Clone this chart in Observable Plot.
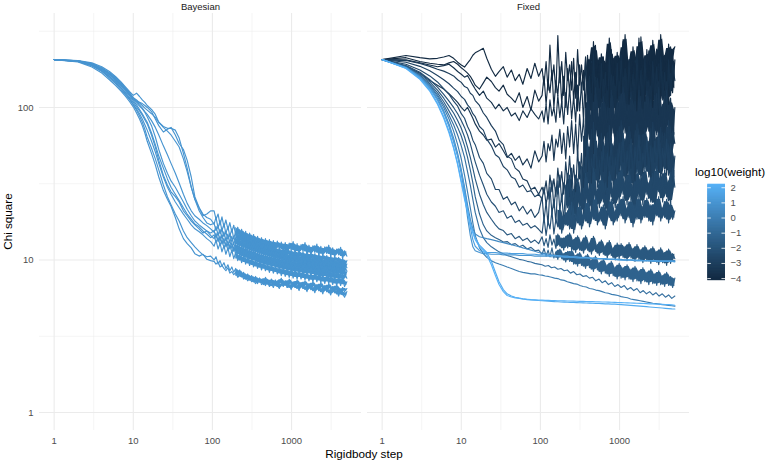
<!DOCTYPE html>
<html><head><meta charset="utf-8">
<script src="https://cdn.jsdelivr.net/npm/d3@7"></script>
<script src="https://cdn.jsdelivr.net/npm/@observablehq/plot@0.6"></script>
<style>
body{margin:0;background:#fff;}
#wrap{position:relative;width:782px;height:463px;font-family:"Liberation Sans",Arial,Helvetica,sans-serif;}
#legend{position:absolute;left:690px;top:160px;}
</style></head><body><div id="wrap"><div id="main"></div><div id="legend"></div></div>
<script>
// Rigidbody steps
const stepsEarly = [1,2,3,4,5,6,7,8,9,10,11,12,13,14,15,17,19,21,24,27,30,34,38,43,48,54,60,68,76,85,95];
const stepsLate = [105,115,126,138,151,166,182,200,219,240,263,288,316,347,380,417,457,501,550,603,661,724,794,871,955,1047,1148,1259,1380,1514,1660,1820,1995,2188,2399,2630,2884,3162,3467,3802,4169,4571,5000];
const stepsLateFine = [105,111,118,125,132,140,148,157,166,176,186,197,209,221,234,248,263,279,295,313,331,351,372,394,417,442,468,496,525,556,589,624,661,700,742,786,832,882,934,989,1047,1109,1175,1245,1318,1396,1479,1567,1660,1758,1862,1972,2089,2213,2344,2483,2630,2786,2951,3126,3311,3508,3715,3936,4169,4416,4677,5000];

const methods = ["Bayesian", "Fixed"];
const bayesianWeight = 1;

const bayesianChi = [
 [206,199,184,168,152,139,128,118,109,101,92,84,76,68,60,50,42,35,28.5,25,22.5,19,16,13.8,12.8,12,11,10.6,10.9,10.1,9.9,
  9.8,9.4,9.7,9.0,9.2,8.8,8.5,8.9,8.2,8.4,8.0,8.3,7.7,7.9,8.1,7.5,7.7,7.3,7.6,7.2,7.4,7.0,7.3,7.6,6.9,7.1,6.8,7.3,6.7,7.0,6.6,7.2,6.8,6.5,7.0,6.7,7.3,6.6,6.9,6.4,7.0,6.6,6.8,6.3,7.1,6.5,6.7,6.2,6.9,6.4,6.6,6.1,6.8,6.3,6.5,6.0,6.7,6.2,6.4,5.9,6.5,6.1,6.3,5.8,6.4,6.0,5.7,6.2],
 [206,201,188,172,156,143,131,121,112,104,96,88,80,72,64,54,46,39,31,26,23,20,18,15.5,14,13,12.2,11.4,10.8,10.5,10.6,
  10.0,10.5,9.4,9.9,9.1,9.6,8.8,9.3,8.5,9.0,8.3,8.8,8.0,8.6,7.8,8.3,7.5,8.1,7.4,7.9,7.2,7.8,7.0,7.6,7.3,6.9,7.7,7.1,6.8,7.5,6.9,7.4,6.7,7.2,7.6,6.8,7.3,6.6,7.5,6.9,7.2,6.6,7.4,6.8,7.1,6.5,7.3,6.7,7.0,6.4,7.2,6.6,6.9,6.3,7.1,6.5,6.8,6.2,7.0,6.4,6.7,6.1,6.9,6.3,6.0,6.6,6.2,6.5],
 [206,203,196,185,172,159,147,136,127,120,124,118,112,108,103,97,90,80,75,73,73,71,63,50,40,30,25,22,19.5,20,21,
  21,18.5,20,17,19.2,16.4,18.3,15.8,17.6,15.2,16.9,14.6,16.4,14.1,15.9,13.6,15.4,13.2,15.0,12.9,14.7,12.6,14.3,12.3,14.0,12.1,13.8,11.9,13.6,11.7,13.4,11.5,13.3,11.8,13.1,11.4,13.0,11.2,12.9,11.6,13.2,11.1,12.8,11.0,12.6,11.4,13.0,10.9,12.5,10.8,12.4,11.2,12.7,10.7,12.3,10.6,12.2,11.0,12.5,10.5,12.0,10.4,11.8,10.8,12.1,10.2,11.5,10.6],
 [206,202,193,180,166,153,141,131,122,114,110,108,106,103,100,94,84,76,69,72,74,66,58,53,45,35,26,22,20,19,18.5,
  17.2,19.0,16.2,18.1,15.5,17.3,14.9,16.6,14.3,16.0,13.8,15.4,13.3,14.9,12.9,14.5,12.5,14.1,12.2,13.7,11.9,13.4,11.6,13.1,11.4,12.8,11.2,12.6,11.0,12.4,10.8,12.2,10.6,12.0,10.5,11.9,10.4,11.8,10.7,11.6,10.2,11.5,10.1,11.4,10.4,11.3,9.9,11.2,9.8,11.1,10.1,11.0,9.7,10.9,9.6,10.8,9.9,10.7,9.5,10.6,9.4,10.5,9.7,10.4,9.3,10.2,9.2,9.9],
 [206,202,194,182,169,157,145,134,124,116,112,107,103,99,96,91,86,80,74,70,66,60,55,46,38,30,25,21,19,17.5,17,
  17.4,15.6,16.6,14.8,15.9,14.2,15.3,13.6,14.8,13.1,14.3,12.7,13.9,12.3,13.5,12.0,13.2,11.6,12.8,11.3,12.5,11.1,12.2,10.9,11.9,10.6,11.7,10.4,11.5,10.2,11.3,10.0,11.1,9.9,11.0,9.7,10.9,9.6,10.8,9.5,10.7,9.4,10.6,9.3,10.5,9.2,10.4,9.1,10.3,9.0,10.2,8.9,10.1,8.9,10.0,8.8,9.9,8.7,9.8,8.6,9.7,8.6,9.6,8.5,9.5,8.4,9.3,8.9],
 [206,200,189,175,160,147,135,125,116,108,101,95,89,83,78,66,55,45,36,31,28,26,24,21,19.5,18,17,16,15,15.5,14.5,
  13.8,15.0,13.2,14.4,12.7,13.9,12.2,13.4,11.8,13.0,11.4,12.6,11.1,12.2,10.8,11.9,10.5,11.6,10.3,11.3,10.1,11.1,9.9,10.9,9.7,10.7,9.5,10.5,9.4,10.4,9.2,10.2,9.1,10.1,9.0,10.0,8.9,9.9,8.8,9.8,8.7,9.7,8.6,9.6,8.6,9.5,8.5,9.4,8.4,9.4,8.4,9.3,8.3,9.2,8.2,9.2,8.2,9.1,8.1,9.0,8.0,9.0,7.9,8.9,7.9,8.8,7.8,8.4],
 [206,201,190,177,163,150,138,128,119,111,104,97,91,85,80,68,57,48,40,34,30,27,24.5,22,20,18.5,17.2,16.5,15.5,14.8,14,
  14.6,13.0,14.0,12.5,13.5,12.0,13.0,11.6,12.6,11.2,12.2,10.9,11.9,10.6,11.6,10.3,11.3,10.0,11.0,9.8,10.8,9.6,10.6,9.4,10.4,9.2,10.2,9.0,10.0,8.9,9.9,8.8,9.8,8.6,9.6,8.5,9.5,8.4,9.4,8.3,9.3,8.2,9.2,8.1,9.1,8.0,9.0,7.9,8.9,7.9,8.8,7.8,8.7,7.7,8.6,7.6,8.6,7.6,8.5,7.5,8.4,7.4,8.3,7.4,8.2,7.3,8.1,7.6],
 [206,200,188,174,159,146,134,123,114,105,98,91,84,77,71,60,51,43,35,30,27,24,22,20,18.5,17,16,15.3,14.6,13.8,13.2,
  12.3,13.5,11.8,12.9,11.3,12.4,10.9,12.0,10.5,11.6,10.2,11.2,9.9,10.9,9.6,10.6,9.4,10.3,9.2,10.1,9.0,9.9,8.8,9.7,8.6,9.5,8.5,9.3,8.3,9.2,8.2,9.0,8.1,8.9,7.9,8.8,7.8,8.7,7.7,8.6,7.6,8.5,7.5,8.4,7.5,8.3,7.4,8.2,7.3,8.1,7.2,8.1,7.2,8.0,7.1,7.9,7.0,7.9,7.0,7.8,6.9,7.7,6.8,7.7,6.8,7.6,6.7,7.2],
 [206,201,191,178,165,152,140,130,121,113,107,102,98,93,87,76,64,53,43,37,33,30,27,24,21.5,19.5,18,17,16.2,15.5,15,
  15.6,13.9,15.0,13.3,14.4,12.8,13.9,12.3,13.4,11.9,13.0,11.5,12.6,11.2,12.3,10.9,12.0,10.6,11.7,10.4,11.5,10.2,11.2,10.0,11.0,9.8,10.8,9.6,10.6,9.5,10.5,9.3,10.3,9.2,10.2,9.1,10.1,9.0,10.0,8.9,9.9,8.8,9.8,8.7,9.7,8.7,9.6,8.6,9.5,8.5,9.5,8.5,9.4,8.4,9.3,8.3,9.3,8.3,9.2,8.2,9.1,8.2,9.0,8.1,9.0,8.0,8.9,8.5],
 [206,202,192,180,167,155,143,133,124,116,110,104,99,94,90,82,74,66,56,49,43,37,32,27,23.5,21,19.5,18.5,17.5,16.8,16,
  15.2,16.6,14.6,15.9,14.0,15.3,13.5,14.8,13.1,14.3,12.7,13.9,12.3,13.5,12.0,13.2,11.7,12.9,11.4,12.6,11.2,12.3,11.0,12.1,10.8,11.9,10.6,11.7,10.4,11.5,10.3,11.3,10.1,11.2,10.0,11.1,9.9,11.0,9.8,10.9,9.7,10.8,9.6,10.7,9.5,10.6,9.5,10.5,9.4,10.4,9.3,10.3,9.3,10.3,9.2,10.2,9.1,10.1,9.1,10.0,9.0,10.0,8.9,9.9,8.9,9.8,8.8,9.4]
];

const fixedWeight = [-4, -4, -3.7, -3.4, -3.1, -2.8, -2.5, -2.1, -1.7, -1.2, -0.6, 0, 0.6, 1, 1.5, 2, 2.26];
// step from which each noisy trace is dense enough to read as a solid core
const fixedBandFrom = [380, 380, 380, 360, 340, 330, 200, 160, 150, 150];
const bayesianBandFrom = 190;

const fixedChi = [
 [206,219,212,208,210,214,219,210,198,190,184,195,206,220,228,236,244,210,178,160,172,185,158,176,150,165,142,180,155,195,160,
  180,140,200,130,256,150,190,125,296,145,200,120,230,150,190,130,210,115,240,140,190,130,215,150,205,125,270,160,200,135,225,155,195,130,285,165,210,140,230,150,205,160,300,170,200,135,250,155,215,140,290,165,200,150,235,140,275,170,210,150,300,175,220,150,260,170,230,250],
 [206,212,200,195,192,190,196,200,192,182,175,168,160,150,140,132,145,158,148,135,128,140,122,115,108,125,100,118,96,130,110,
  120,160,105,150,125,175,100,150,120,185,105,160,100,180,125,200,110,170,95,190,130,175,100,220,135,195,110,255,140,190,115,215,125,200,100,240,140,190,115,210,125,270,145,200,105,225,130,195,95,285,120,205,110,240,135,200,100,220,145,260,115,210,130,200,105,250,125,205],
 [206,205,196,190,185,188,192,182,172,165,158,162,150,140,132,120,128,115,108,98,105,95,100,88,92,82,95,86,98,90,84,
  95,80,105,78,112,88,100,80,120,86,110,78,125,90,135,84,118,80,140,95,145,80,205,105,160,85,225,110,155,90,195,100,170,80,215,115,160,90,195,100,220,115,180,85,205,110,165,92,225,105,175,88,210,118,150,95,200,108,185,90,215,112,170,98,205,120,190,150],
 [206,184,168,150,140,132,123,115,108,100,95,100,92,85,78,70,66,61,62,55,58,52,47,50,45,48,42,46,40,52,44,
  48,60,44,58,52,66,45,62,55,72,50,68,46,75,55,82,50,78,48,90,60,85,48,120,62,95,50,135,65,92,52,118,60,100,48,130,68,95,54,118,60,135,68,105,58,125,52,110,64,130,56,98,62,128,70,112,55,120,66,135,60,105,58,130,72,115,62,100],
 [206,203,194,186,178,173,167,161,152,146,137,134,124,120,111,103,92,86,76,70,61,57,48,46,40,38,34,33,29,30,27,
  30,27,33,25,36,28,34,26,40,30,38,27,44,32,48,30,42,28,52,34,50,30,72,38,55,32,80,40,54,34,68,38,60,30,76,42,56,34,70,38,82,44,62,36,75,40,58,33,78,45,66,37,72,42,60,35,80,44,64,38,74,41,68,36,82,46,70,58],
 [206,198,186,174,162,152,143,134,127,118,113,104,99,91,87,75,71,62,56,49,47,41,39,35,34,30,31,28,28.5,26,27,
  25,30,23,28,26,33,22,30,27,36,24,32,28,37,26,40,25,36,30,44,27,42,34,60,29,46,36,66,30,45,34,57,27,50,37,63,30,47,34,58,39,68,32,52,36,62,29,55,38,66,33,50,40,64,35,56,31,60,38,68,34,54,40,62,36,58,33,48],
 [206,192,176,161,147,133,122,110,102,91,85,75,69,61,57,47,43,37,34,29,29,25,26,23,24,21,22.5,20,21.5,19,20.5,
  26,18,24,17,30,20,25,17.5,33,21,27,18,31,22,36,20,29,18.5,34,23,28,20,37,24,30,21,40,25,29,22,35,24,32,20,38,26,30,22,36,24,41,27,33,23,38,25,31,21,39,26,34,23,40,27,32,24,37,22,41,28,35,24,39,26,33,23,40,30],
 [206,188,170,152,136,122,110,100,91,82,74,66,58,50,44,36,31,27,24,22.5,20.5,21,18.8,19.5,17.6,18.2,16.9,17.4,16.2,16.8,15.9,
  15,19,14.5,18,16,21,14.8,18.5,16.5,22,15,19.5,17,21,16,24,15,20,17.5,23,16,20,18,24.5,16.5,21,18.5,26,17,20.5,18,23,16,21.5,19,25,17,21,18,24,19.5,26,17.5,22,19,25,16.5,23,18.5,26,17.5,22.5,19,25.5,18,23,17,24,19.5,26,18,22,19,25,17.5,23.5,18.5,21],
 [206,186,166,147,130,115,102,92,82,73,64,55,47,40,34,27,23,20.5,18.5,17,16,15.6,14.6,14.9,13.8,14.3,13.4,13.9,13,13.5,12.8,
  14.2,12.4,13.8,12.1,14.6,12.5,13.7,11.9,14.8,12.3,13.9,11.6,14.3,12.0,15.0,11.7,13.6,11.2,14.4,11.6,13.1,11.1,14.4,11.6,12.9,10.9,14.3,11.4,12.6,10.7,13.5,10.9,12.4,10.3,13.4,10.7,12.0,10.0,12.9,10.2,12.8,10.4,12.3,9.9,13.0,10.3,11.9,9.8,12.6,10.1,11.7,9.6,12.4,9.9,11.6,9.5,12.2,9.8,11.4,9.3,12.0,9.6,11.2,9.2,11.8,9.5,11.0,10.2],
 [206,185,163,143,125,109,95,84,74,65,56,47,39,32,26,20,17,15.5,14.5,14,13.6,13.1,13.2,12.6,12.8,12.2,12.5,11.8,12.1,11.5,11.6,
  10.9,11.9,10.6,11.6,10.5,12.0,10.3,11.3,10.1,11.8,10.2,11.0,9.7,11.4,9.8,11.6,9.4,10.7,9.1,11.2,9.2,10.3,8.8,10.9,8.9,10.0,8.4,10.6,8.6,9.6,8.1,10.1,8.2,9.3,7.8,9.8,7.9,9.0,7.5,9.5,7.6,8.9,7.4,9.3,7.5,8.7,7.2,9.1,7.3,8.5,7.0,8.9,7.2,8.3,6.9,8.7,7.0,8.1,6.8,8.5,6.9,7.9,6.7,8.3,6.8,7.8,6.6,7.6],
 [206,184,161,140,121,104,89,77,66,56,47,38,31,25,20.5,16,14,13,12.2,11.7,11.3,11,10.7,10.5,10.3,10.1,10,9.8,9.7,9.5,9.4,
  9.3,9.1,9.2,8.9,9,8.7,8.8,8.5,8.6,8.2,8.4,8,8.1,7.8,7.9,7.6,7.7,7.3,7.5,7.1,7.3,6.9,7.1,6.7,6.9,6.6,6.8,6.4,6.6,6.3,6.5,6.1,6.3,6,6.2,5.9,6.1,5.8,6,5.7,5.9,5.6,5.8],
 [206,183,160,138,118,100,84,70,57,46,36,28,22,17.5,14.5,12,11,10.4,9.9,9.6,9.4,9.2,9,8.8,8.6,8.4,8.3,8.2,8.1,8.1,8,
  7.95,7.85,7.8,7.7,7.6,7.55,7.4,7.35,7.2,7.1,7.0,6.95,6.8,6.7,6.65,6.5,6.45,6.35,6.3,6.2,6.1,6.05,5.95,5.9,5.85,5.75,5.7,5.65,5.55,5.5,5.45,5.4,5.35,5.3,5.25,5.2,5.18,5.14,5.1,5.07,5.04,5.01,4.98],
 [206,182,158,135,114,95,78,63,50,39,30,23,18.5,16,14.8,14.2,14,13.8,13.6,13.4,13.2,13,12.8,12.6,12.4,12.2,12,11.8,11.6,11.4,11.2,
  11.1,11,10.9,10.8,10.7,10.6,10.6,10.5,10.5,10.4,10.4,10.4,10.3,10.3,10.3,10.3,10.2,10.2,10.2,10.2,10.2,10.1,10.1,10.1,10.1,10.1,10,10,10,10,10,10,9.9,9.9,9.9,9.9,9.9,9.9,9.9,9.9,9.9,9.9,9.9],
 [206,183,159,136,114,94,76,60,48,37,27,19,14.5,12.2,11.5,11.2,11,11,10.9,10.9,10.9,10.8,10.8,10.8,10.8,10.7,10.7,10.7,10.7,10.6,10.6,
  10.6,10.6,10.6,10.5,10.5,10.5,10.5,10.4,10.4,10.4,10.4,10.3,10.3,10.3,10.3,10.3,10.2,10.2,10.2,10.2,10.1,10.1,10.1,10.1,10,10,10,10,10,9.9,9.9,9.9,9.9,9.9,9.9,9.8,9.8,9.8,9.8,9.8,9.8,9.8,9.8],
 [206,182,157,133,111,92,75,60,48,38,29,21.5,16.5,13.6,12.3,11.5,11.3,11.2,11.2,11.2,11.1,11.1,11.1,11,11,11,11,10.9,10.9,10.9,10.8,
  10.8,10.8,10.7,10.7,10.7,10.7,10.6,10.6,10.6,10.5,10.5,10.5,10.4,10.4,10.4,10.3,10.3,10.3,10.2,10.2,10.2,10.1,10.1,10.1,10.1,10,10,10,10,10,9.9,9.9,9.9,9.9,9.9,9.9,9.9,9.8,9.8,9.8,9.8,9.8,9.7],
 [206,181,155,130,107,87,70,55,43,33,26,21,17.5,15.5,14,12.5,11.8,11.2,9.8,8.3,7.2,6.4,6,5.8,5.7,5.62,5.56,5.5,5.48,5.45,5.42,
  5.4,5.38,5.36,5.35,5.33,5.32,5.3,5.29,5.28,5.27,5.26,5.25,5.24,5.23,5.22,5.21,5.2,5.19,5.18,5.17,5.16,5.15,5.14,5.13,5.12,5.1,5.08,5.06,5.04,5.02,5,4.98,4.96,4.94,4.92,4.9,4.88,4.86,4.84,4.82,4.8,4.78,4.77],
 [206,180,153,128,105,85,68,54,42,32,25,20.5,17,15,13.6,12.2,11.5,10.8,9.3,7.9,6.9,6.2,5.85,5.72,5.64,5.6,5.56,5.53,5.5,5.48,5.46,
  5.45,5.44,5.43,5.42,5.41,5.4,5.4,5.39,5.38,5.38,5.37,5.36,5.35,5.35,5.34,5.33,5.33,5.32,5.31,5.3,5.3,5.29,5.28,5.27,5.26,5.25,5.24,5.23,5.22,5.21,5.2,5.19,5.18,5.17,5.16,5.15,5.14,5.13,5.12,5.11,5.1,5.08,5.05]
];

const xTicks = [1, 10, 100, 1000];
const yTicks = [1, 10, 100];
const xMinor = [10 ** 0.5, 10 ** 1.5, 10 ** 2.5, 10 ** 3.5];
const yMinor = [10 ** 0.5, 10 ** 1.5, 10 ** 2.5];
const legendTicks = [-4, -3, -2, -1, 0, 1, 2];

// tidy table: noisy traces use the fine late grid, smooth ones the coarse grid
const gridFine = stepsEarly.concat(stepsLateFine);
const gridCoarse = stepsEarly.concat(stepsLate);
const gridFor = ys => ys.length === gridFine.length ? gridFine : gridCoarse;
const rows = [];
const bandRows = [];
// dense core of each noisy trace: inner part of the local (3-point) min–max range, in log space
function addTrace(method, id, ys, w, bandFrom, shrink) {
  const g = gridFor(ys);
  ys.forEach((v, j) => {
    rows.push({method, id, step: g[j], chi: v, w});
    if (bandFrom != null && g[j] >= bandFrom) {
      const nb = [ys[j - 1], v, ys[j + 1]].filter(u => u != null);
      const lo = Math.min(...nb), hi = Math.max(...nb);
      const r = hi / lo;
      bandRows.push({method, id, step: g[j], lo: lo * r ** shrink, hi: hi / r ** shrink, w});
    }
  });
}
bayesianChi.forEach((ys, i) => addTrace("Bayesian", "B" + i, ys, bayesianWeight, bayesianBandFrom, 0.2));
fixedChi.forEach((ys, i) => addTrace("Fixed", "F" + i, ys, fixedWeight[i], fixedBandFrom[i], 0.12));

const font = '"Liberation Sans", Arial, Helvetica, sans-serif';
const colorOpts = {type: "linear", domain: [-4, 2.26], range: ["#132B43", "#56B1F7"], interpolate: "lab"};
const fmtMinus = d => d < 0 ? "\u2212" + (-d) : String(d);

const chart = Plot.plot({
  width: 782, height: 463,
  marginLeft: 38.6, marginRight: 92, marginTop: 13, marginBottom: 33,
  style: {fontFamily: font, fontSize: "9.5px", color: "#4D4D4D", background: "white", overflow: "visible"},
  fx: {domain: methods, paddingInner: 0.018, paddingOuter: 0, axis: null, label: null},
  x: {type: "log", domain: [10 ** -0.185, 10 ** 3.884], ticks: xTicks, tickFormat: d => String(d), tickSize: 0, tickPadding: 7, label: null},
  y: {type: "log", domain: [10 ** -0.118, 10 ** 2.616], ticks: yTicks, tickFormat: d => String(d), tickSize: 0, tickPadding: 6, label: null},
  color: colorOpts,
  marks: [
    Plot.ruleX(xMinor, {stroke: "#EBEBEB", strokeWidth: 0.55}),
    Plot.ruleY(yMinor, {stroke: "#EBEBEB", strokeWidth: 0.55}),
    Plot.ruleX(xTicks, {stroke: "#EBEBEB", strokeWidth: 1.1}),
    Plot.ruleY(yTicks, {stroke: "#EBEBEB", strokeWidth: 1.1}),
    Plot.areaY(bandRows, {x: "step", y1: "lo", y2: "hi", z: "id", fill: "w", fx: "method"}),
    Plot.lineY(rows, {x: "step", y: "chi", z: "id", stroke: "w", fx: "method", strokeWidth: 1.15}),
    Plot.text(methods, {fx: d => d, text: d => d, frameAnchor: "top", dy: -10.5, fill: "#1A1A1A", fontSize: 9.5})
  ]
});
document.getElementById("main").appendChild(chart);

const svg = d3.select(chart);
svg.append("text").attr("x", 364).attr("y", 457.5).attr("text-anchor", "middle")
  .attr("font-size", 11.7).attr("fill", "black").attr("font-family", font).text("Rigidbody step");
svg.append("text").attr("transform", "translate(11.5,221.5) rotate(-90)").attr("text-anchor", "middle")
  .attr("font-size", 11.7).attr("fill", "black").attr("font-family", font).text("Chi square");

// colour bar legend
const bins = d3.range(-4.06, 2.25, 0.04);
const legend = Plot.plot({
  width: 92, height: 130,
  marginLeft: 0, marginRight: 0, marginTop: 0, marginBottom: 0,
  style: {fontFamily: font, fontSize: "9.5px", color: "#4D4D4D", background: "transparent", overflow: "visible"},
  x: {domain: [0, 1], range: [17.3, 35], axis: null},
  y: {domain: [-4.08, 2.26], range: [119.3, 23.3], axis: null},
  color: colorOpts,
  marks: [
    Plot.ruleY(bins, {y: d => d, x1: () => 0, x2: () => 1, stroke: d => Math.max(-4, Math.min(2.26, d)), strokeWidth: 1.4}),
    Plot.ruleY(legendTicks, {x1: () => 0, x2: () => 0.2, stroke: "white", strokeWidth: 0.8}),
    Plot.ruleY(legendTicks, {x1: () => 0.8, x2: () => 1, stroke: "white", strokeWidth: 0.8}),
    Plot.text(legendTicks, {x: () => 1, y: d => d, dx: 5, textAnchor: "start", text: fmtMinus, fill: "#4D4D4D", fontSize: 9.5})
  ]
});
document.getElementById("legend").appendChild(legend);
d3.select(legend).append("text").attr("x", 5).attr("y", 16).attr("font-size", 11.7).attr("text-anchor", "start")
  .attr("fill", "black").attr("font-family", font).text("log10(weight)");
</script></body></html>
